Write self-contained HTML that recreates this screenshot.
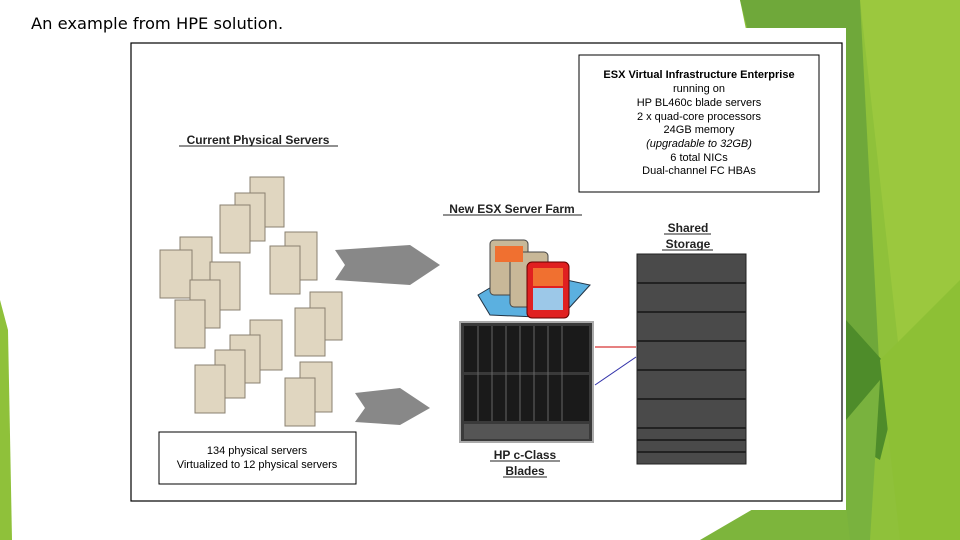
<!DOCTYPE html>
<html><head><meta charset="utf-8"><style>
body{margin:0;width:960px;height:540px;overflow:hidden;background:#fff;font-family:"Liberation Sans",sans-serif}
svg{position:absolute;left:0;top:0}
</style></head><body>
<svg width="960" height="540" viewBox="0 0 960 540" xmlns="http://www.w3.org/2000/svg">
<polygon points="740,0 960,0 960,540 850,540" fill="#8fc13a"/>
<polygon points="860,0 960,0 960,300 900,360" fill="#9bc83e"/>
<polygon points="740,0 860,0 880,380 846,420" fill="#6fa83a"/>
<polygon points="846,320 900,380 880,460 846,440" fill="#4e8c2a"/>
<polygon points="846,420 880,380 870,540 846,540" fill="#79b23e"/>
<polygon points="700,540 760,505 846,505 850,540" fill="#7db53c"/>
<polygon points="0,300 8,330 12,540 0,540" fill="#8fc13a"/>
<polygon points="880,360 960,280 960,540 900,540" fill="#8dc035"/>
<rect x="118" y="28" width="728" height="482" fill="#fff"/>
<rect x="131" y="43" width="711" height="458" fill="none" stroke="#000" stroke-width="1.2"/>
<text x="31" y="29" font-size="16.3" fill="#000" font-family="DejaVu Sans">An example from HPE solution.</text>
<rect x="579" y="55" width="240" height="137" fill="#fff" stroke="#000"/>
<g font-size="11" text-anchor="middle" fill="#000">
<text x="699" y="78" font-weight="bold">ESX Virtual Infrastructure Enterprise</text>
<text x="699" y="92">running on</text>
<text x="699" y="106">HP BL460c blade servers</text>
<text x="699" y="120">2 x quad-core processors</text>
<text x="699" y="133">24GB memory</text>
<text x="699" y="147" font-style="italic">(upgradable to 32GB)</text>
<text x="699" y="161">6 total NICs</text>
<text x="699" y="174">Dual-channel FC HBAs</text>
</g>
<g font-size="12" font-weight="bold" text-anchor="middle" fill="#222">
<text x="258" y="144">Current Physical Servers</text>
<text x="512" y="213">New ESX Server Farm</text>
<text x="688" y="232">Shared</text>
<text x="688" y="248">Storage</text>
<text x="525" y="459">HP c-Class</text>
<text x="525" y="475">Blades</text>
</g>
<line x1="179" y1="146" x2="338" y2="146" stroke="#222"/>
<line x1="443" y1="215" x2="582" y2="215" stroke="#222"/>
<line x1="664" y1="234" x2="711" y2="234" stroke="#222"/>
<line x1="662" y1="250" x2="713" y2="250" stroke="#222"/>
<line x1="490" y1="461" x2="560" y2="461" stroke="#222"/>
<line x1="503" y1="477" x2="547" y2="477" stroke="#222"/>
<rect x="159" y="432" width="197" height="52" fill="#fff" stroke="#000"/>
<text x="257" y="454" font-size="11" text-anchor="middle">134 physical servers</text>
<text x="257" y="468" font-size="11" text-anchor="middle">Virtualized to 12 physical servers</text>
<polygon points="335,250 410,245 440,265 410,285 335,280 345,265" fill="#888"/>
<polygon points="355,393 400,388 430,408 400,425 355,422 365,408" fill="#888"/>
<g fill="#e0d6c0" stroke="#8a8070" stroke-width="1">
<rect x="250" y="177" width="34" height="50"/><rect x="235" y="193" width="30" height="48"/>
<rect x="220" y="205" width="30" height="48"/><rect x="285" y="232" width="32" height="48"/>
<rect x="270" y="246" width="30" height="48"/><rect x="180" y="237" width="32" height="48"/>
<rect x="160" y="250" width="32" height="48"/><rect x="210" y="262" width="30" height="48"/>
<rect x="190" y="280" width="30" height="48"/><rect x="310" y="292" width="32" height="48"/>
<rect x="295" y="308" width="30" height="48"/><rect x="175" y="300" width="30" height="48"/>
<rect x="250" y="320" width="32" height="50"/><rect x="230" y="335" width="30" height="48"/>
<rect x="215" y="350" width="30" height="48"/><rect x="195" y="365" width="30" height="48"/>
<rect x="300" y="362" width="32" height="50"/><rect x="285" y="378" width="30" height="48"/>
</g>
<polygon points="478,295 520,270 590,285 560,318 490,315" fill="#5bb0e0" stroke="#234" />
<rect x="490" y="240" width="38" height="55" rx="4" fill="#c8b898" stroke="#444"/>
<rect x="510" y="252" width="38" height="55" rx="4" fill="#c8b898" stroke="#444"/>
<rect x="527" y="262" width="42" height="56" rx="5" fill="#e02020" stroke="#600"/>
<rect x="533" y="268" width="30" height="18" fill="#f07030"/><rect x="533" y="288" width="30" height="22" fill="#9cc8e8"/>
<rect x="495" y="246" width="28" height="16" fill="#f07030"/>
<rect x="460" y="322" width="133" height="120" fill="#3a3a3a" stroke="#aaa" stroke-width="2"/>
<rect x="464" y="326" width="125" height="46" fill="#1a1a1a"/>
<rect x="464" y="375" width="125" height="46" fill="#1a1a1a"/>
<rect x="464" y="424" width="125" height="15" fill="#555"/>
<g stroke="#666" stroke-width="1">
<line x1="478" y1="326" x2="478" y2="421"/><line x1="492" y1="326" x2="492" y2="421"/>
<line x1="506" y1="326" x2="506" y2="421"/><line x1="520" y1="326" x2="520" y2="421"/>
<line x1="534" y1="326" x2="534" y2="421"/><line x1="548" y1="326" x2="548" y2="421"/>
<line x1="562" y1="326" x2="562" y2="421"/>
</g>
<line x1="595" y1="347" x2="636" y2="347" stroke="#c00"/>
<line x1="595" y1="385" x2="636" y2="357" stroke="#33a"/>
<rect x="637" y="254" width="109" height="210" fill="#4a4a4a" stroke="#222"/>
<g stroke="#222" stroke-width="2">
<line x1="637" y1="283" x2="746" y2="283"/><line x1="637" y1="312" x2="746" y2="312"/>
<line x1="637" y1="341" x2="746" y2="341"/><line x1="637" y1="370" x2="746" y2="370"/>
<line x1="637" y1="399" x2="746" y2="399"/><line x1="637" y1="428" x2="746" y2="428"/>
<line x1="637" y1="440" x2="746" y2="440"/><line x1="637" y1="452" x2="746" y2="452"/>
</g>
</svg>
</body></html>
